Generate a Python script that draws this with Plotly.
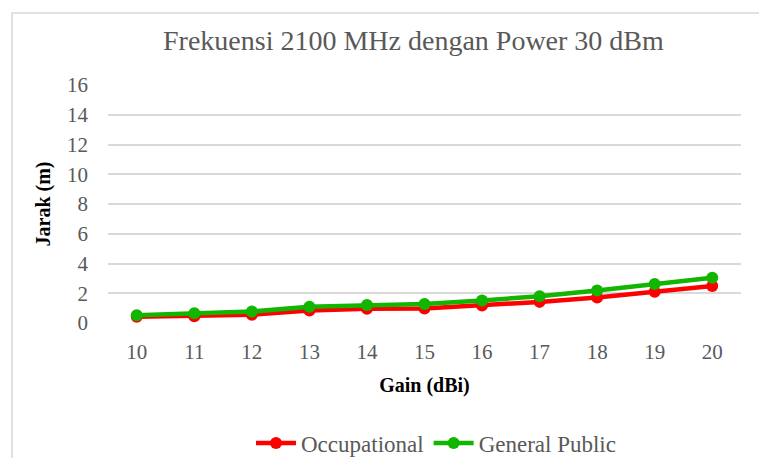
import plotly.graph_objects as go

gain = [10, 11, 12, 13, 14, 15, 16, 17, 18, 19, 20]
occupational = [0.42, 0.46, 0.56, 0.84, 0.95, 0.97, 1.17, 1.42, 1.72, 2.10, 2.48]
general_public = [0.52, 0.65, 0.77, 1.09, 1.21, 1.28, 1.51, 1.80, 2.18, 2.62, 3.04]
y_ticks = [0, 2, 4, 6, 8, 10, 12, 14, 16]

W, H = 759, 458
L, R, T, B = 108, 18, 85, 135
pw, ph = W - L - R, H - T - B

FONT = "Liberation Serif, serif"
GRAY = "#595959"

fig = go.Figure()
fig.add_trace(go.Scatter(x=gain, y=occupational, mode="lines+markers", name="Occupational",
                         line=dict(color="#FF0000", width=4.5),
                         marker=dict(color="#FF0000", size=12)))
fig.add_trace(go.Scatter(x=gain, y=general_public, mode="lines+markers", name="General Public",
                         line=dict(color="#12B500", width=4.5),
                         marker=dict(color="#12B500", size=12)))

def px_x(p):
    return (p - L) / pw

def px_y(p):
    return (H - B - p) / ph

fig.update_layout(
    width=W, height=H,
    margin=dict(l=L, r=R, t=T, b=B, autoexpand=False),
    paper_bgcolor="white", plot_bgcolor="white",
    font=dict(family=FONT, color=GRAY, size=20),
    showlegend=True,
    legend=dict(orientation="h", x=436 / W, xanchor="center", xref="container",
                y=1 - 443 / H, yanchor="middle", yref="container",
                font=dict(family="Times New Roman, Liberation Serif, serif", size=23,
                          color=GRAY, weight="normal", style="normal"),
                itemwidth=40, bgcolor="rgba(0,0,0,0)"),
    xaxis=dict(range=[9.5, 20.5], tickmode="array", tickvals=gain, ticktext=[str(g) for g in gain],
               showgrid=False, zeroline=False, showline=False, ticks="", automargin=False,
               ticklabelstandoff=14,
               tickfont=dict(family=FONT, size=21, color=GRAY),
               title=dict(text="<b>Gain (dBi)</b>", font=dict(family=FONT, size=20, color="#000000"),
                          standoff=14)),
    yaxis=dict(range=[0, 16], tickmode="array", tickvals=y_ticks, showgrid=True,
               gridcolor="#D9D9D9", gridwidth=1.5, zeroline=False, showline=False, ticks="",
               automargin=False, ticklabelstandoff=19,
               tickfont=dict(family=FONT, size=21, color=GRAY),
               title=dict(text="<b>Jarak (m)</b>", font=dict(family=FONT, size=20, color="#000000"),
                          standoff=11)),
    shapes=[dict(type="rect", xref="paper", yref="paper",
                 x0=px_x(12), x1=px_x(800), y0=px_y(500), y1=px_y(13),
                 line=dict(color="#D9D9D9", width=1.5), fillcolor="rgba(0,0,0,0)", layer="below")],
    annotations=[dict(text="Frekuensi 2100 MHz dengan Power 30 dBm", xref="paper", yref="paper",
                      x=px_x(413), y=px_y(40), xanchor="center", yanchor="middle", showarrow=False,
                      font=dict(family=FONT, size=28, color=GRAY))],
)

fig.write_html("out.html", config={"displayModeBar": False},
               post_script="document.body.style.margin='0';")
